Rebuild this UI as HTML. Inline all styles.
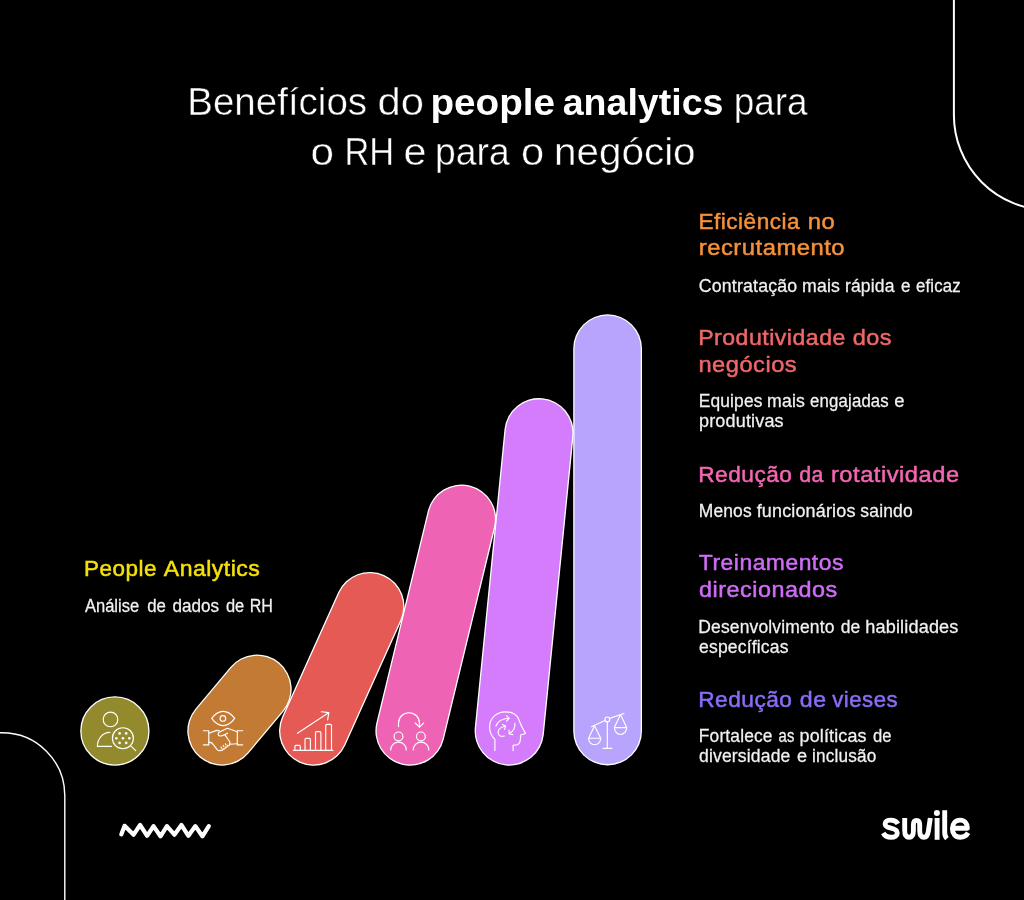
<!DOCTYPE html>
<html lang="pt-BR">
<head>
<meta charset="utf-8">
<title>Benefícios do people analytics para o RH e para o negócio</title>
<style>
html,body{margin:0;padding:0;background:#000;}
body{width:1024px;height:900px;overflow:hidden;font-family:"Liberation Sans", sans-serif;}
svg{display:block;}
svg text{font-family:"Liberation Sans", sans-serif;white-space:pre;}
</style>
</head>
<body>
<svg width="1024" height="900" viewBox="0 0 1024 900">
<rect x="0" y="0" width="1024" height="900" fill="#000000"/>
<!-- decorative corners, zigzag, logo -->
<g fill="none" stroke="#ffffff" stroke-linecap="butt">
<path d="M953.9 -2 V115 A95 95 0 0 0 1048.9 210" stroke-width="2"/>
<path d="M-2 732.8 H2 A62.8 62.8 0 0 1 64.8 795.6 V902" stroke-width="1.4"/>
</g>
<polyline points="121.3,834.4 124.6,825.8 133.6,834.7 140.1,825.0 147.1,835.8 153.5,826.1 160.5,836.3 166.9,826.1 174.4,834.7 181.4,825.0 188.4,835.8 195.4,826.1 202.4,836.3 208.8,826.1" fill="none" stroke="#ffffff" stroke-width="4.2" stroke-linecap="round" stroke-linejoin="round"/>
<g id="logo" fill="none" stroke="#ffffff" stroke-width="4.9" stroke-linecap="butt" stroke-linejoin="round">
<!-- s -->
<path d="M897.9 823.9 C896.5 821.3 894.0 820.1 890.9 820.1 C887.4 820.1 885.1 821.6 885.1 824.0 C885.1 826.5 887.6 827.4 890.9 828.2 C894.4 829.0 897.3 830.1 897.3 833.0 C897.3 835.8 894.7 837.3 891.1 837.3 C887.7 837.3 884.8 836.0 883.2 833.0"/>
<!-- w -->
<path d="M904.7 818 V830.5 C904.7 835.2 906.5 837.3 909.2 837.3 C911.9 837.3 913.4 835.2 913.4 830.5 V825 C913.4 822 914.6 820.4 916.5 820.4 C918.4 820.4 919.7 822 919.7 825 V830.5 C919.7 835.2 921.3 837.3 924.0 837.3 C926.6 837.3 927.7 835.4 928.4 831.0 L930.3 818"/>
<!-- i -->
<path d="M937.1 818 V839.8"/>
<!-- l -->
<path d="M944.7 810.2 V832.3 C944.7 835.0 945.3 836.9 946.9 838.6"/>
<!-- e -->
<path d="M954.0 828.2 H967.4 C967.4 823.4 964.6 820.1 960.0 820.1 C955.4 820.1 952.4 823.7 952.4 828.6 C952.4 833.6 955.4 837.3 960.2 837.3 C963.7 837.3 966.3 835.9 968.1 832.8"/>
</g>
<circle cx="936.9" cy="813.0" r="3.0" fill="#ffffff"/>

<!-- circle -->
<circle cx="114.9" cy="731" r="34.05" fill="#938a2e" stroke="#ffffff" stroke-width="1.3"/>
<!-- pills -->
<line x1="222.0" y1="731.0" x2="257.0" y2="689.2" stroke="#ffffff" stroke-width="69.40" stroke-linecap="round"/>
<line x1="222.0" y1="731.0" x2="257.0" y2="689.2" stroke="#c27a35" stroke-width="66.80" stroke-linecap="round"/>
<line x1="313.7" y1="731.0" x2="369.8" y2="606.6" stroke="#ffffff" stroke-width="69.40" stroke-linecap="round"/>
<line x1="313.7" y1="731.0" x2="369.8" y2="606.6" stroke="#e55a55" stroke-width="66.80" stroke-linecap="round"/>
<line x1="410.1" y1="731.0" x2="461.5" y2="519.2" stroke="#ffffff" stroke-width="69.40" stroke-linecap="round"/>
<line x1="410.1" y1="731.0" x2="461.5" y2="519.2" stroke="#ef63b5" stroke-width="66.80" stroke-linecap="round"/>
<line x1="509.3" y1="731.0" x2="539.0" y2="432.8" stroke="#ffffff" stroke-width="69.40" stroke-linecap="round"/>
<line x1="509.3" y1="731.0" x2="539.0" y2="432.8" stroke="#d47cfc" stroke-width="66.80" stroke-linecap="round"/>
<line x1="607.6" y1="731.0" x2="607.6" y2="348.7" stroke="#ffffff" stroke-width="68.80" stroke-linecap="round"/>
<line x1="607.6" y1="731.0" x2="607.6" y2="348.7" stroke="#b8a4fc" stroke-width="66.20" stroke-linecap="round"/>
<!-- icons -->
<g fill="none" stroke="#ffffff" stroke-width="1.15" stroke-linecap="round" stroke-linejoin="round">
<!-- icon 1: person + magnifier -->
<g id="ic1">
<circle cx="110.5" cy="719.4" r="7.3"/>
<path d="M111.4 746.4 H97.4 C97.4 738.6 102.6 732.6 109.8 732.4"/>
<circle cx="122.9" cy="738.2" r="10.5"/>
<path d="M130.4 745.6 L135.7 750.7"/>
<g fill="#ffffff" stroke="none">
<circle cx="119.6" cy="733.4" r="1.3"/><circle cx="126.2" cy="733.4" r="1.3"/>
<circle cx="116.4" cy="738.2" r="1.3"/><circle cx="122.9" cy="738.2" r="1.3"/><circle cx="129.3" cy="738.2" r="1.3"/>
<circle cx="119.6" cy="742.9" r="1.3"/><circle cx="126.2" cy="742.9" r="1.3"/>
</g>
</g>
<!-- icon 2: eye + handshake -->
<g id="ic2">
<path d="M211.7 718.4 C215.2 713.6 219.0 711.3 223.1 711.3 C227.2 711.3 231.1 713.6 234.7 718.4 C231.1 723.3 227.2 725.6 223.1 725.6 C219.0 725.6 215.2 723.3 211.7 718.4 Z"/>
<circle cx="222.9" cy="718.4" r="2.8"/>
<path d="M203.4 730.7 H208.8 V744.8 H203.4"/>
<path d="M242.7 730.7 H237.3 V744.8 H242.7"/>
<!-- left sleeve to hand -->
<path d="M208.8 733.2 L216.7 730.4 L219.4 730.8"/>
<path d="M208.8 742.1 L211.9 742.9 L217.2 749.6 C218.4 750.9 219.8 751.0 221.0 750.2 A1.4 1.4 0 0 0 223.1 748.6 A1.4 1.4 0 0 0 225.3 747.0 A1.4 1.4 0 0 0 227.4 745.4 A1.4 1.4 0 0 0 229.6 743.9"/>
<!-- right hand top and thumb -->
<path d="M237.3 731.8 L227.3 728.2 L219.6 732.0 C217.6 733.2 217.8 735.4 219.6 735.9 C221.4 736.3 223.4 735.4 224.6 734.8 L227.5 733.2"/>
<path d="M225.0 734.9 L230.0 742.2 L229.8 744.2 L237.3 743.8"/>
<!-- finger notches -->
<path d="M221.0 747.0 L221.6 748.2 M223.2 745.4 L223.8 746.6 M225.4 743.8 L226.0 745.0"/>
</g>
<!-- icon 3: bar chart with arrow -->
<g id="ic3">
<path d="M293.4 750.4 H332.9"/>
<path d="M294.9 750.4 V746.4 Q294.9 745.3 296.0 745.3 H299.2 Q300.3 745.3 300.3 746.4 V750.4"/>
<path d="M305.0 750.4 V739.5 Q305.0 738.4 306.1 738.4 H309.3 Q310.4 738.4 310.4 739.5 V750.4"/>
<path d="M315.5 750.4 V732.7 Q315.5 731.6 316.6 731.6 H319.8 Q320.9 731.6 320.9 732.7 V750.4"/>
<path d="M325.7 750.4 V725.6 Q325.7 724.4 326.9 724.4 H330.3 Q331.5 724.4 331.5 725.6 V750.4"/>
<path d="M297.4 733.3 L328.6 712.8"/>
<path d="M321.4 711.7 L328.8 712.6 L327.6 720.0"/>
</g>
<!-- icon 4: people rotation -->
<g id="ic4">
<path d="M398.5 726.6 V723.2 A10.5 10.5 0 0 1 419.5 723.2 V726.8"/>
<path d="M415.2 723.0 L419.5 727.2 L423.7 723.0"/>
<circle cx="398.5" cy="736.4" r="4.4"/>
<path d="M390.7 749.9 A7.8 7.8 0 0 1 406.3 749.9"/>
<circle cx="420.9" cy="736.4" r="4.4"/>
<path d="M413.2 749.9 A7.8 7.8 0 0 1 428.8 749.9"/>
</g>
<!-- icon 5: head with arrows -->
<g id="ic5">
<path d="M494.9 750.6 V739.4 C491.2 736.0 489.6 731.8 489.6 727.0 C489.6 718.4 496.4 711.8 505.4 711.8 C512.2 711.8 516.4 714.6 518.6 719.0 C520.4 723.8 522.6 729.0 525.5 733.2 C524.2 734.2 522.4 734.6 520.8 734.7 L520.3 740.0 C520.0 742.8 518.8 744.4 516.6 744.9 L513.1 745.3 V750.6"/>
<path d="M495.9 726.2 C497.6 721.6 502.6 718.6 508.9 718.3"/>
<path d="M506.4 715.6 L509.2 718.3 L506.6 721.2"/>
<path d="M514.8 723.2 C515.4 727.6 513.4 731.4 509.4 733.6"/>
<path d="M509.0 730.0 L509.2 733.8 L512.8 734.6"/>
<path d="M504.3 736.0 C500.8 737.2 498.2 735.6 498.1 732.6 C498.0 729.6 500.6 727.0 505.2 726.2"/>
<path d="M502.4 724.6 L505.6 726.1 L504.6 729.4"/>
</g>
<!-- icon 6: scales -->
<g id="ic6">
<circle cx="607.3" cy="719.4" r="2.4"/>
<path d="M591.4 726.7 L605.0 720.4 M609.6 718.4 L624.0 713.5"/>
<path d="M607.3 722.0 V748.4 M603.1 748.4 H611.9"/>
<path d="M594.2 726.4 L588.6 738.2 H600.7 L594.8 726.2"/>
<path d="M588.6 738.2 C588.6 742.0 591.2 744.7 594.6 744.7 C598.0 744.7 600.7 742.0 600.7 738.2"/>
<path d="M620.0 715.4 L614.4 727.6 H626.7 L620.8 715.2"/>
<path d="M614.4 727.6 C614.4 731.4 617.0 734.5 620.5 734.5 C624.0 734.5 626.7 731.4 626.7 727.6"/>
</g>
</g>

<!-- text -->
<g id="txt" style="opacity:0.999">
<text id="h1a_0" transform="translate(698.50 228.70) scale(1.0868 1.08)" style="font-size:20.8px;font-weight:normal;fill:#f6923a;letter-spacing:0.450px;stroke:#f6923a;stroke-width:0.45px;">Eficiência</text>
<text id="h1a_1" transform="translate(807.85 228.70) scale(1.1444 1.08)" style="font-size:20.8px;font-weight:normal;fill:#f6923a;letter-spacing:0.450px;stroke:#f6923a;stroke-width:0.45px;">no</text>
<text id="h1b_0" transform="translate(698.75 255.30) scale(1.1447 1.08)" style="font-size:20.8px;font-weight:normal;fill:#f6923a;letter-spacing:0.450px;stroke:#f6923a;stroke-width:0.45px;">recrutamento</text>
<text id="d1a_0" transform="translate(698.80 291.50) scale(1.0766 1.08)" style="font-size:16.5px;font-weight:normal;fill:#f2f2f2;letter-spacing:0.150px;stroke:#f2f2f2;stroke-width:0.25px;">Contratação</text>
<text id="d1a_1" transform="translate(802.05 291.50) scale(1.0723 1.08)" style="font-size:16.5px;font-weight:normal;fill:#f2f2f2;letter-spacing:0.150px;stroke:#f2f2f2;stroke-width:0.25px;">mais</text>
<text id="d1a_2" transform="translate(844.90 291.50) scale(1.0629 1.08)" style="font-size:16.5px;font-weight:normal;fill:#f2f2f2;letter-spacing:0.150px;stroke:#f2f2f2;stroke-width:0.25px;">rápida</text>
<text id="d1a_3" transform="translate(901.00 291.50) scale(1.0315 1.08)" style="font-size:16.5px;font-weight:normal;fill:#f2f2f2;letter-spacing:0.150px;stroke:#f2f2f2;stroke-width:0.25px;">e</text>
<text id="d1a_4" transform="translate(916.00 291.50) scale(1.0175 1.08)" style="font-size:16.5px;font-weight:normal;fill:#f2f2f2;letter-spacing:0.150px;stroke:#f2f2f2;stroke-width:0.25px;">eficaz</text>
<text id="h2a_0" transform="translate(698.15 344.50) scale(1.1108 1.08)" style="font-size:20.8px;font-weight:normal;fill:#f0686a;letter-spacing:0.450px;stroke:#f0686a;stroke-width:0.45px;">Produtividade</text>
<text id="h2a_1" transform="translate(852.70 344.50) scale(1.1301 1.08)" style="font-size:20.8px;font-weight:normal;fill:#f0686a;letter-spacing:0.450px;stroke:#f0686a;stroke-width:0.45px;">dos</text>
<text id="h2b_0" transform="translate(698.40 371.60) scale(1.1382 1.08)" style="font-size:20.8px;font-weight:normal;fill:#f0686a;letter-spacing:0.450px;stroke:#f0686a;stroke-width:0.45px;">negócios</text>
<text id="d2a_0" transform="translate(698.70 407.00) scale(1.0535 1.08)" style="font-size:16.5px;font-weight:normal;fill:#f2f2f2;letter-spacing:0.150px;stroke:#f2f2f2;stroke-width:0.25px;">Equipes</text>
<text id="d2a_1" transform="translate(767.00 407.00) scale(1.0723 1.08)" style="font-size:16.5px;font-weight:normal;fill:#f2f2f2;letter-spacing:0.150px;stroke:#f2f2f2;stroke-width:0.25px;">mais</text>
<text id="d2a_2" transform="translate(810.10 407.00) scale(1.0174 1.08)" style="font-size:16.5px;font-weight:normal;fill:#f2f2f2;letter-spacing:0.150px;stroke:#f2f2f2;stroke-width:0.25px;">engajadas</text>
<text id="d2a_3" transform="translate(894.20 407.00) scale(1.1186 1.08)" style="font-size:16.5px;font-weight:normal;fill:#f2f2f2;letter-spacing:0.150px;stroke:#f2f2f2;stroke-width:0.25px;">e</text>
<text id="d2b_0" transform="translate(698.95 427.00) scale(1.0934 1.08)" style="font-size:16.5px;font-weight:normal;fill:#f2f2f2;letter-spacing:0.150px;stroke:#f2f2f2;stroke-width:0.25px;">produtivas</text>
<text id="h3a_0" transform="translate(698.25 481.70) scale(1.0907 1.08)" style="font-size:20.8px;font-weight:normal;fill:#f567b3;letter-spacing:0.450px;stroke:#f567b3;stroke-width:0.45px;">Redução</text>
<text id="h3a_1" transform="translate(799.25 481.70) scale(1.0252 1.08)" style="font-size:20.8px;font-weight:normal;fill:#f567b3;letter-spacing:0.450px;stroke:#f567b3;stroke-width:0.45px;">da</text>
<text id="h3a_2" transform="translate(830.95 481.70) scale(1.1394 1.08)" style="font-size:20.8px;font-weight:normal;fill:#f567b3;letter-spacing:0.450px;stroke:#f567b3;stroke-width:0.45px;">rotatividade</text>
<text id="d3a_0" transform="translate(698.70 516.80) scale(1.0578 1.08)" style="font-size:16.5px;font-weight:normal;fill:#f2f2f2;letter-spacing:0.150px;stroke:#f2f2f2;stroke-width:0.25px;">Menos</text>
<text id="d3a_1" transform="translate(756.65 516.80) scale(1.0901 1.08)" style="font-size:16.5px;font-weight:normal;fill:#f2f2f2;letter-spacing:0.150px;stroke:#f2f2f2;stroke-width:0.25px;">funcionários</text>
<text id="d3a_2" transform="translate(860.35 516.80) scale(1.0606 1.08)" style="font-size:16.5px;font-weight:normal;fill:#f2f2f2;letter-spacing:0.150px;stroke:#f2f2f2;stroke-width:0.25px;">saindo</text>
<text id="h4a_0" transform="translate(698.85 569.90) scale(1.1011 1.08)" style="font-size:20.8px;font-weight:normal;fill:#cf6ef6;letter-spacing:0.450px;stroke:#cf6ef6;stroke-width:0.45px;">Treinamentos</text>
<text id="h4b_0" transform="translate(699.10 596.90) scale(1.1249 1.08)" style="font-size:20.8px;font-weight:normal;fill:#cf6ef6;letter-spacing:0.450px;stroke:#cf6ef6;stroke-width:0.45px;">direcionados</text>
<text id="d4a_0" transform="translate(698.35 633.00) scale(1.0590 1.08)" style="font-size:16.5px;font-weight:normal;fill:#f2f2f2;letter-spacing:0.150px;stroke:#f2f2f2;stroke-width:0.25px;">Desenvolvimento</text>
<text id="d4a_1" transform="translate(840.65 633.00) scale(1.0625 1.08)" style="font-size:16.5px;font-weight:normal;fill:#f2f2f2;letter-spacing:0.150px;stroke:#f2f2f2;stroke-width:0.25px;">de</text>
<text id="d4a_2" transform="translate(865.20 633.00) scale(1.0971 1.08)" style="font-size:16.5px;font-weight:normal;fill:#f2f2f2;letter-spacing:0.150px;stroke:#f2f2f2;stroke-width:0.25px;">habilidades</text>
<text id="d4b_0" transform="translate(699.10 653.00) scale(1.0636 1.08)" style="font-size:16.5px;font-weight:normal;fill:#f2f2f2;letter-spacing:0.150px;stroke:#f2f2f2;stroke-width:0.25px;">específicas</text>
<text id="h5a_0" transform="translate(698.15 706.80) scale(1.0923 1.08)" style="font-size:20.8px;font-weight:normal;fill:#8b6ef7;letter-spacing:0.450px;stroke:#8b6ef7;stroke-width:0.45px;">Redução</text>
<text id="h5a_1" transform="translate(799.80 706.80) scale(1.1146 1.08)" style="font-size:20.8px;font-weight:normal;fill:#8b6ef7;letter-spacing:0.450px;stroke:#8b6ef7;stroke-width:0.45px;">de</text>
<text id="h5a_2" transform="translate(832.25 706.80) scale(1.0679 1.08)" style="font-size:20.8px;font-weight:normal;fill:#8b6ef7;letter-spacing:0.450px;stroke:#8b6ef7;stroke-width:0.45px;">vieses</text>
<text id="d5a_0" transform="translate(698.80 741.90) scale(1.0533 1.08)" style="font-size:16.5px;font-weight:normal;fill:#f2f2f2;letter-spacing:0.150px;stroke:#f2f2f2;stroke-width:0.25px;">Fortalece</text>
<text id="d5a_1" transform="translate(778.55 741.90) scale(0.8993 1.08)" style="font-size:16.5px;font-weight:normal;fill:#f2f2f2;letter-spacing:0.150px;stroke:#f2f2f2;stroke-width:0.25px;">as</text>
<text id="d5a_2" transform="translate(799.55 741.90) scale(1.0867 1.08)" style="font-size:16.5px;font-weight:normal;fill:#f2f2f2;letter-spacing:0.150px;stroke:#f2f2f2;stroke-width:0.25px;">políticas</text>
<text id="d5a_3" transform="translate(872.95 741.90) scale(1.0070 1.08)" style="font-size:16.5px;font-weight:normal;fill:#f2f2f2;letter-spacing:0.150px;stroke:#f2f2f2;stroke-width:0.25px;">de</text>
<text id="d5b_0" transform="translate(699.05 761.80) scale(1.0640 1.08)" style="font-size:16.5px;font-weight:normal;fill:#f2f2f2;letter-spacing:0.150px;stroke:#f2f2f2;stroke-width:0.25px;">diversidade</text>
<text id="d5b_1" transform="translate(797.00 761.80) scale(1.0982 1.08)" style="font-size:16.5px;font-weight:normal;fill:#f2f2f2;letter-spacing:0.150px;stroke:#f2f2f2;stroke-width:0.25px;">e</text>
<text id="d5b_2" transform="translate(811.95 761.80) scale(1.0436 1.08)" style="font-size:16.5px;font-weight:normal;fill:#f2f2f2;letter-spacing:0.150px;stroke:#f2f2f2;stroke-width:0.25px;">inclusão</text>
<text id="pa_0" transform="translate(84.10 576.40) scale(1.0799 1.08)" style="font-size:20.8px;font-weight:normal;fill:#f6e20a;letter-spacing:0.450px;stroke:#f6e20a;stroke-width:0.45px;">People</text>
<text id="pa_1" transform="translate(163.80 576.40) scale(1.1072 1.08)" style="font-size:20.8px;font-weight:normal;fill:#f6e20a;letter-spacing:0.450px;stroke:#f6e20a;stroke-width:0.45px;">Analytics</text>
<text id="pb_0" transform="translate(84.90 611.90) scale(1.0026 1.08)" style="font-size:16.5px;font-weight:normal;fill:#f2f2f2;letter-spacing:0.000px;stroke:#f2f2f2;stroke-width:0.25px;">Análise</text>
<text id="pb_1" transform="translate(147.15 611.90) scale(1.0209 1.08)" style="font-size:16.5px;font-weight:normal;fill:#f2f2f2;letter-spacing:0.000px;stroke:#f2f2f2;stroke-width:0.25px;">de</text>
<text id="pb_2" transform="translate(172.50 611.90) scale(1.0363 1.08)" style="font-size:16.5px;font-weight:normal;fill:#f2f2f2;letter-spacing:0.000px;stroke:#f2f2f2;stroke-width:0.25px;">dados</text>
<text id="pb_3" transform="translate(225.95 611.90) scale(0.9964 1.08)" style="font-size:16.5px;font-weight:normal;fill:#f2f2f2;letter-spacing:0.000px;stroke:#f2f2f2;stroke-width:0.25px;">de</text>
<text id="pb_4" transform="translate(249.75 611.90) scale(0.9749 1.08)" style="font-size:16.5px;font-weight:normal;fill:#f2f2f2;letter-spacing:0.000px;stroke:#f2f2f2;stroke-width:0.25px;">RH</text>
<text id="t1_0" transform="translate(187.25 114.80) scale(1.0761 1.07)" style="font-size:35.8px;font-weight:normal;fill:#ffffff;letter-spacing:0.000px;stroke:#000000;stroke-width:0.4px;">Benefícios</text>
<text id="t1_1" transform="translate(377.50 114.80) scale(1.1652 1.07)" style="font-size:35.8px;font-weight:normal;fill:#ffffff;letter-spacing:0.000px;stroke:#000000;stroke-width:0.4px;">do</text>
<text id="t1x_0" transform="translate(430.50 114.80) scale(1.0790 1.01)" style="font-size:35.8px;font-weight:bold;fill:#ffffff;letter-spacing:0.000px;">people</text>
<text id="t1x_1" transform="translate(562.75 114.80) scale(1.0486 1.01)" style="font-size:35.8px;font-weight:bold;fill:#ffffff;letter-spacing:0.000px;">analytics</text>
<text id="t1y_0" transform="translate(733.75 114.80) scale(1.0313 1.07)" style="font-size:35.8px;font-weight:normal;fill:#ffffff;letter-spacing:0.000px;stroke:#000000;stroke-width:0.4px;">para</text>
<text id="t2_0" transform="translate(310.50 165.10) scale(1.1771 1.07)" style="font-size:35.8px;font-weight:normal;fill:#ffffff;letter-spacing:0.000px;stroke:#000000;stroke-width:0.4px;">o</text>
<text id="t2_1" transform="translate(344.50 165.10) scale(0.9598 1.07)" style="font-size:35.8px;font-weight:normal;fill:#ffffff;letter-spacing:0.000px;stroke:#000000;stroke-width:0.4px;">RH</text>
<text id="t2_2" transform="translate(403.50 165.10) scale(1.1600 1.07)" style="font-size:35.8px;font-weight:normal;fill:#ffffff;letter-spacing:0.000px;stroke:#000000;stroke-width:0.4px;">e</text>
<text id="t2_3" transform="translate(435.00 165.10) scale(1.0417 1.07)" style="font-size:35.8px;font-weight:normal;fill:#ffffff;letter-spacing:0.000px;stroke:#000000;stroke-width:0.4px;">para</text>
<text id="t2_4" transform="translate(521.00 165.10) scale(1.1597 1.07)" style="font-size:35.8px;font-weight:normal;fill:#ffffff;letter-spacing:0.000px;stroke:#000000;stroke-width:0.4px;">o</text>
<text id="t2_5" transform="translate(554.00 165.10) scale(1.1294 1.07)" style="font-size:35.8px;font-weight:normal;fill:#ffffff;letter-spacing:0.000px;stroke:#000000;stroke-width:0.4px;">negócio</text>
</g>
</svg>
</body>
</html>
